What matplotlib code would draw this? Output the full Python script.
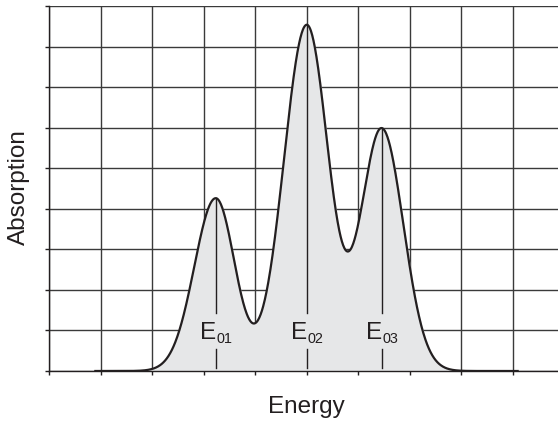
import numpy as np
import matplotlib
matplotlib.use('Agg')
import matplotlib.pyplot as plt

plt.rcParams['font.family'] = ['Liberation Sans', 'DejaVu Sans']

# absorption bands
band_labels = ['01', '02', '03']
band_centers = [3.237, 5.004, 6.46]
band_heights = [4.258, 8.53, 5.97]
band_widths_low = [0.415, 0.445, 0.40]   # width on the low-energy side
band_widths_high = [0.37, 0.42, 0.42]    # width on the high-energy side
energy_range = [0.9, 9.1]

x = np.linspace(energy_range[0], energy_range[1], 1000)


def spectrum(e):
    e = np.asarray(e, dtype=float)
    total = np.zeros_like(e)
    for c, h, wl, wh in zip(band_centers, band_heights, band_widths_low, band_widths_high):
        w = np.where(e < c, wl, wh)
        total = total + h * np.exp(-(e - c) ** 2 / (2 * w ** 2))
    return total


y = spectrum(x)

fig = plt.figure(figsize=(5.58, 4.23), dpi=100)
ax = fig.add_axes([49 / 558, 52 / 423, 515 / 558, 365 / 423])
ax.set_xlim(0, 10)
ax.set_ylim(0, 9)

ax.set_xticks(range(0, 11))
ax.set_yticks(range(0, 10))
ax.tick_params(direction='out', length=3, width=1, color='#231f20',
               labelbottom=False, labelleft=False)
ax.grid(True, color='#3a3a3a', linewidth=1.0)
ax.set_axisbelow(True)
for s in ['top', 'right']:
    ax.spines[s].set_visible(False)
for s in ['left', 'bottom']:
    ax.spines[s].set_color('#231f20')
    ax.spines[s].set_linewidth(1.0)

ax.fill_between(x, 0, y, color='#e6e7e8', zorder=2)
ax.plot(x, y, color='#231f20', linewidth=1.6, zorder=3)

for lab, c in zip(band_labels, band_centers):
    top = float(spectrum([c])[0])
    ax.plot([c, c], [1.43, top], color='#231f20', linewidth=1.0, zorder=3)
    ax.plot([c, c], [0.07, 0.54], color='#231f20', linewidth=1.0, zorder=3)
    ax.annotate('E', xy=(c, 0.78), xytext=(0.5, 0), textcoords='offset points',
                ha='right', va='baseline', fontsize=17.5, color='#231f20', zorder=4)
    ax.annotate(lab, xy=(c, 0.70), xytext=(0.3, 0), textcoords='offset points',
                ha='left', va='baseline', fontsize=10.4, color='#231f20', zorder=4)

fig.text(19 / 558, 1 - 187 / 423, 'Absorption', rotation=90, ha='center', va='center',
         fontsize=17.5, color='#231f20')
fig.text(306 / 558, 1 - 407 / 423, 'Energy', ha='center', va='center',
         fontsize=17.5, color='#231f20')

fig.savefig('out.png', dpi=100)
